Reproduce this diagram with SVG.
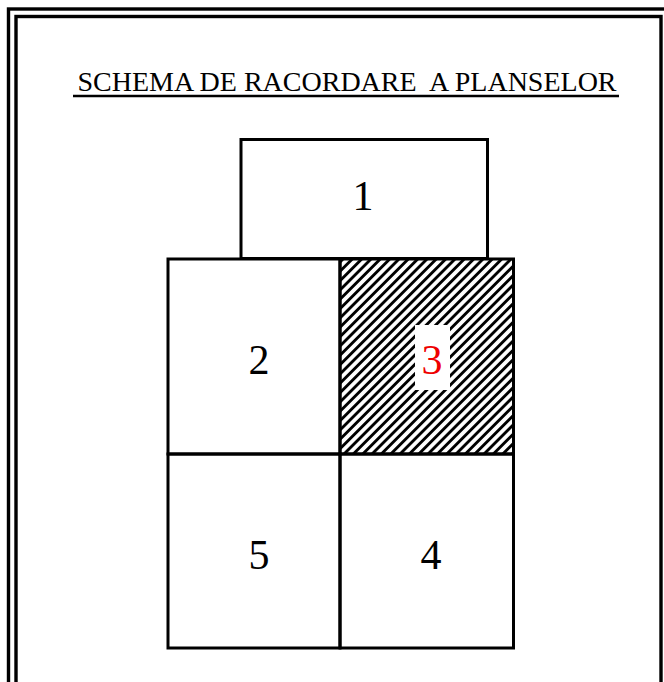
<svg xmlns="http://www.w3.org/2000/svg" width="664" height="682" viewBox="0 0 664 682">
<defs>
<pattern id="hatch" width="6.6" height="6.6" patternUnits="userSpaceOnUse" patternTransform="rotate(-45)">
<line x1="0" y1="3.3" x2="6.6" y2="3.3" stroke="#000" stroke-width="2.9"/>
</pattern>
</defs>
<style>
.frame{fill:none;stroke:#000;stroke-width:3.4}
.cell{fill:none;stroke:#000;stroke-width:3}
.num{font-family:"Liberation Serif","Times New Roman",serif;font-size:42px;text-anchor:middle;fill:#000}
.title{font-family:"Liberation Serif","Times New Roman",serif;font-size:28px;fill:#000}
</style>
<rect width="664" height="682" fill="#fff"/>
<g id="frame">
<rect class="frame" x="8.5" y="9" width="670" height="700"/>
<rect class="frame" x="16" y="16.5" width="645" height="700"/>
</g>
<g id="title">
<text class="title" x="347" y="91" text-anchor="middle" xml:space="preserve">SCHEMA DE RACORDARE  A PLANSELOR</text>
<line x1="73" y1="96" x2="619" y2="96" stroke="#000" stroke-width="2.6"/>
</g>
<g id="node1">
<rect class="cell" x="241" y="139.5" width="246.5" height="119"/>
<text class="num" x="363" y="210">1</text>
</g>
<g id="node3">
<rect x="340" y="259" width="173.5" height="195" fill="url(#hatch)"/>
<rect x="415" y="325" width="35" height="65" fill="#fff"/>
<rect class="cell" x="340" y="259" width="173.5" height="195"/>
<text class="num" x="432" y="374" style="fill:#e00">3</text>
</g>
<g id="node2">
<rect class="cell" x="168" y="259" width="172" height="195"/>
<text class="num" x="259" y="374">2</text>
</g>
<g id="node5">
<rect class="cell" x="168" y="454" width="172" height="194"/>
<text class="num" x="259" y="569">5</text>
</g>
<g id="node4">
<rect class="cell" x="340" y="454" width="173.5" height="194"/>
<text class="num" x="431" y="569">4</text>
</g>
<g id="connectors"></g>
</svg>
